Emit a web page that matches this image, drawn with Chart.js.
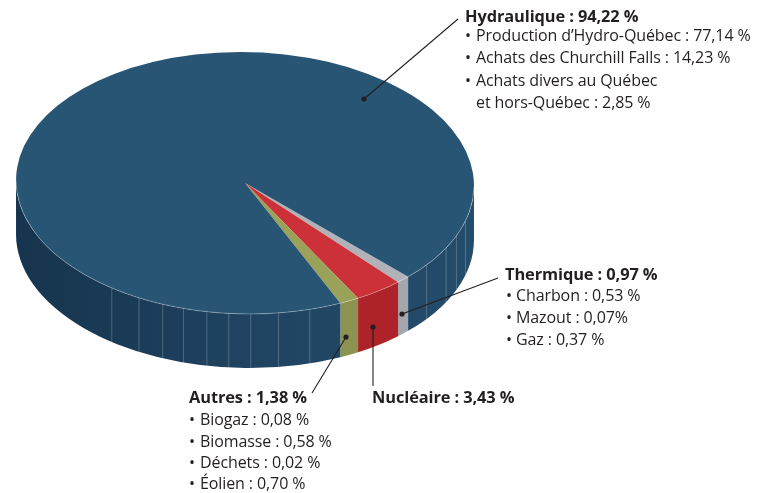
<!DOCTYPE html>
<html>
<head>
<meta charset="utf-8">
<script src="https://cdn.jsdelivr.net/npm/chart.js@4"></script>
<style>
  html, body { margin: 0; padding: 0; background: #fff; }
  canvas { display: block; }
</style>
</head>
<body>
<canvas id="myChart" width="767" height="493"></canvas>
<script>
const categories = ['Thermique', 'Nucléaire', 'Autres', 'Hydraulique'];
const values = [0.97, 3.43, 1.38, 94.22];
const topColors = ['#b0b2b7', '#cc3139', '#9aa159', '#295575'];
const sideColors = ['#a5a6ab', '#ae2329', '#8c9350', null];

// light seams on the rim, degrees clockwise from east
const facetAngles = [15, 22, 28, 37, 73, 81, 88, 93.5, 99, 105, 110.5, 117, 125];

const hydroLines = ['Production d’Hydro-Québec : 77,14 %', 'Achats des Churchill Falls : 14,23 %', 'Achats divers au Québec', 'et hors-Québec : 2,85 %'];
const thermoLines = ['Charbon : 0,53 %', 'Mazout : 0,07%', 'Gaz : 0,37 %'];
const autresLines = ['Biogaz : 0,08 %', 'Biomasse : 0,58 %', 'Déchets : 0,02 %', 'Éolien : 0,70 %'];

const labels = [
  { title: 'Hydraulique : 94,22 %', x: 465, y: 22, lines: hydroLines, ys: [41, 63, 86, 108], noBullet: [3], textX: 476, bulletX: 465,
    leader: [364, 99, 458, 19] },
  { title: 'Thermique : 0,97 %', x: 505, y: 280, lines: thermoLines, ys: [301, 323, 345], textX: 516, bulletX: 506,
    leader: [402, 314, 498, 278] },
  { title: 'Autres : 1,38 %', x: 189, y: 403, lines: autresLines, ys: [425, 447, 468, 489], textX: 200, bulletX: 189,
    leader: [346, 337, 312, 393] },
  { title: 'Nucléaire : 3,43 %', x: 372, y: 403, lines: [], ys: [], textX: 372, bulletX: 372,
    leader: [373, 327, 373, 386] }
];

const centerY = 183;
const squash = 131 / 229;
const depth = 54;
const tilt = 1 * Math.PI / 180;
const inkColor = '#231f20';

function rimPath(ctx, cx, cy, rx, ry, a0, a1) {
  ctx.beginPath();
  ctx.ellipse(cx, cy, rx, ry, tilt, a0, a1);
  ctx.ellipse(cx, cy + depth, rx, ry, tilt, a1, a0, true);
  ctx.closePath();
}

const pie3d = {
  id: 'pie3d',
  beforeDatasetsDraw(chart) {
    const ctx = chart.ctx;
    const arcs = chart.getDatasetMeta(0).data;
    const cx = arcs[0].x, rx = arcs[0].outerRadius, ry = rx * squash;

    const grad = ctx.createLinearGradient(cx - rx, 0, cx + rx, 0);
    grad.addColorStop(0, '#16344e');
    grad.addColorStop(0.5, '#1f4360');
    grad.addColorStop(1, '#244c6b');

    // only the front half of the rim is visible
    const edge = -squash * tilt;
    arcs.forEach((arc, i) => {
      for (let k = 0; k < 2; k++) {
        const from = Math.max(arc.startAngle, k * 2 * Math.PI + edge);
        const to = Math.min(arc.endAngle, k * 2 * Math.PI + Math.PI + edge);
        if (to <= from) continue;
        rimPath(ctx, cx, centerY, rx, ry, from, to);
        ctx.fillStyle = sideColors[i] || grad;
        ctx.fill();
      }
    });

    ctx.strokeStyle = 'rgba(255,255,255,0.22)';
    ctx.lineWidth = 1;
    facetAngles.forEach(deg => {
      const a = deg * Math.PI / 180;
      const ex = rx * Math.cos(a), ey = ry * Math.sin(a);
      const x = cx + ex * Math.cos(tilt) - ey * Math.sin(tilt);
      const y = centerY + ex * Math.sin(tilt) + ey * Math.cos(tilt);
      ctx.beginPath();
      ctx.moveTo(x, y);
      ctx.lineTo(x, y + depth);
      ctx.stroke();
    });

    // the library's arcs become the elliptical top face
    ctx.save();
    ctx.translate(cx, centerY);
    ctx.rotate(tilt);
    ctx.scale(1, squash);
    ctx.translate(-cx, -arcs[0].y);
  },
  afterDatasetsDraw(chart) {
    const ctx = chart.ctx;
    ctx.restore();

    const arc = chart.getDatasetMeta(0).data[0];
    const rx = arc.outerRadius;
    ctx.beginPath();
    ctx.ellipse(arc.x, centerY, rx, rx * squash, tilt, 0, Math.PI);
    ctx.strokeStyle = 'rgba(255,255,255,0.35)';
    ctx.lineWidth = 0.8;
    ctx.stroke();

    labels.forEach(l => {
      const [x0, y0, x1, y1] = l.leader;
      ctx.beginPath();
      ctx.moveTo(x0, y0);
      ctx.lineTo(x1, y1);
      ctx.strokeStyle = inkColor;
      ctx.lineWidth = 1.1;
      ctx.stroke();
      ctx.beginPath();
      ctx.arc(x0, y0, 2.6, 0, Math.PI * 2);
      ctx.fillStyle = inkColor;
      ctx.fill();

      ctx.fillStyle = inkColor;
      ctx.textAlign = 'left';
      ctx.textBaseline = 'alphabetic';
      ctx.font = 'bold 16.4px "Open Sans"';
      ctx.letterSpacing = '-0.1px';
      ctx.fillText(l.title, l.x, l.y);
      ctx.font = '16px "Open Sans"';
      ctx.letterSpacing = '-0.1px';
      l.lines.forEach((t, i) => {
        ctx.fillText(t, l.textX, l.ys[i]);
        if (!(l.noBullet || []).includes(i)) ctx.fillText('•', l.bulletX, l.ys[i]);
      });
    });
  }
};

new Chart(document.getElementById('myChart'), {
  type: 'pie',
  data: {
    labels: categories,
    datasets: [{
      data: values,
      backgroundColor: topColors,
      borderWidth: 0
    }]
  },
  options: {
    responsive: false,
    animation: false,
    rotation: 134,
    layout: { padding: { left: 16, right: 293, top: 0, bottom: 35 } },
    plugins: {
      legend: { display: false },
      tooltip: { enabled: false }
    }
  },
  plugins: [pie3d]
});
</script>
</body>
</html>
